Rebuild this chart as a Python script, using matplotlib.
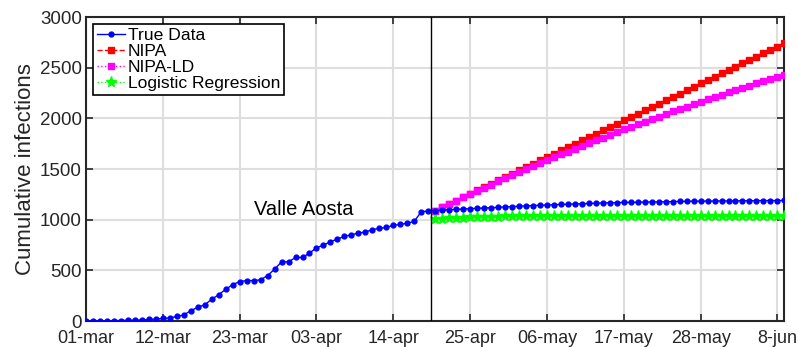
import matplotlib
matplotlib.use('Agg')
import matplotlib.pyplot as plt

plt.rcParams['font.family'] = ['Liberation Sans', 'DejaVu Sans']

# days counted from 01-mar
true_days = list(range(0, 101))
true_data = [0, 0, 0, 0, 3, 5, 7, 9, 10, 15,
             20, 25, 30, 45, 59, 102, 135, 161, 214, 260,
             313, 359, 389, 399, 399, 406, 449, 511, 584, 584,
             627, 627, 670, 723, 749, 782, 809, 835, 851, 868,
             878, 901, 914, 924, 944, 954, 964, 984, 1077, 1087,
             1090, 1094, 1098, 1102, 1105, 1109, 1112, 1115, 1118, 1122,
             1126, 1129, 1132, 1136, 1139, 1142, 1145, 1148, 1150, 1152,
             1155, 1157, 1160, 1162, 1165, 1167, 1168, 1170, 1171, 1172,
             1174, 1175, 1176, 1177, 1178, 1180, 1181, 1182, 1183, 1183,
             1184, 1185, 1185, 1186, 1187, 1187, 1188, 1188, 1189, 1189,
             1190]

pred_days = list(range(50, 101))
nipa = [1090, 1123, 1156, 1189, 1222, 1255, 1288, 1321, 1354, 1387,
        1420, 1453, 1486, 1519, 1552, 1585, 1618, 1651, 1684, 1717,
        1750, 1783, 1816, 1849, 1882, 1915, 1948, 1981, 2014, 2047,
        2080, 2113, 2146, 2179, 2212, 2245, 2278, 2311, 2344, 2377,
        2410, 2443, 2476, 2509, 2542, 2575, 2608, 2641, 2674, 2707,
        2740]
nipa_ld = [1090, 1123, 1156, 1188, 1220, 1252, 1284, 1315, 1346, 1377,
           1408, 1438, 1468, 1498, 1528, 1557, 1586, 1615, 1644, 1672,
           1700, 1728, 1756, 1783, 1810, 1837, 1864, 1890, 1916, 1942,
           1968, 1993, 2018, 2043, 2068, 2092, 2116, 2140, 2164, 2187,
           2210, 2233, 2256, 2278, 2300, 2322, 2344, 2365, 2386, 2407,
           2428]
logistic = [1005, 1010, 1014, 1018, 1021, 1024, 1026, 1028, 1030, 1031,
            1032, 1033, 1034, 1034, 1035, 1035, 1036, 1036, 1036, 1036,
            1037, 1037, 1037, 1037, 1037, 1037, 1037, 1037, 1037, 1037,
            1037, 1037, 1037, 1037, 1037, 1037, 1037, 1037, 1037, 1037,
            1037, 1037, 1037, 1037, 1037, 1037, 1037, 1037, 1037, 1037,
            1037]

tick_days = [0, 11, 22, 33, 44, 55, 66, 77, 88, 99]
tick_labels = ['01-mar', '12-mar', '23-mar', '03-apr', '14-apr',
               '25-apr', '06-may', '17-may', '28-may', '8-jun']
split_day = 49.4

fig = plt.figure(figsize=(7.98, 3.47), dpi=100)
ax = fig.add_axes([0.1078, 0.0749, 0.8747, 0.8761])

ax.plot(true_days, true_data, '-', color='#0000ff', marker='.', markersize=7,
        linewidth=1.0, label='True Data', zorder=5)
ax.plot(pred_days, nipa, '--', color='#ff0000', marker='s', markersize=5,
        linewidth=1.0, label='NIPA', zorder=3)
ax.plot(pred_days, nipa_ld, ':', color='#ff00ff', marker='s', markersize=5,
        linewidth=1.0, label='NIPA-LD', zorder=4)
ax.plot(pred_days, logistic, ':', color='#00ff00', marker='*', markersize=8,
        linewidth=1.0, label='Logistic Regression', zorder=4)
ax.axvline(split_day, color='black', linewidth=1.0, zorder=6)

ax.text(31.2, 1105, 'Valle Aosta', fontsize=14.5, ha='center', va='center')

ax.set_xlim(0, 99.95)
ax.set_ylim(0, 3000)
ax.set_xticks(tick_days)
ax.set_xticklabels(tick_labels)
ax.set_yticks([0, 500, 1000, 1500, 2000, 2500, 3000])
ax.tick_params(direction='in', length=5, width=1.2, labelsize=13.5,
               top=True, right=True, colors='#262626', labelcolor='#262626')
ax.tick_params(axis='x', pad=6.5, labelsize=13)
ax.tick_params(axis='y', pad=3)
ax.set_ylabel('Cumulative infections', fontsize=16, color='#262626', labelpad=3)
ax.grid(True, color='#dedede', linewidth=1.5)
ax.set_axisbelow(True)
for s in ax.spines.values():
    s.set_color('#262626')
    s.set_linewidth(1.5)

leg = ax.legend(loc='upper left', bbox_to_anchor=(0.0, 1.0), fontsize=12.6,
                fancybox=False, framealpha=1, edgecolor='black',
                handlelength=1.6, handletextpad=0.2, borderpad=0.2,
                labelspacing=0.05, borderaxespad=0.4)
leg.get_frame().set_linewidth(1.2)

fig.savefig('out.png', dpi=100)
plt.close()
